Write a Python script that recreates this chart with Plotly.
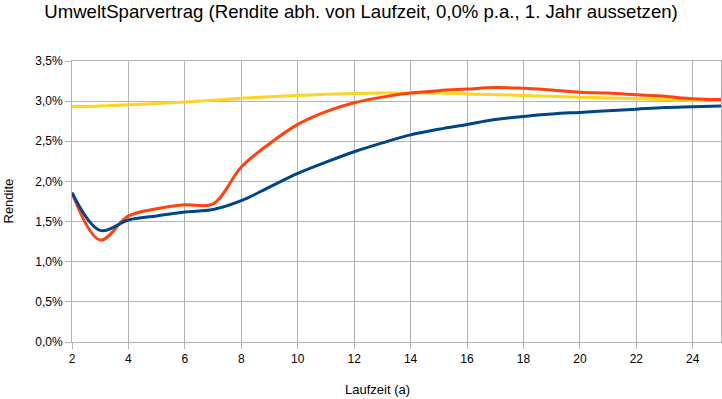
import plotly.graph_objects as go

laufzeit = list(range(2, 26))

rendite_blau = [1.86, 1.39, 1.52, 1.57, 1.62, 1.65, 1.76, 1.93, 2.10, 2.24, 2.37, 2.48,
                2.58, 2.65, 2.71, 2.77, 2.81, 2.84, 2.86, 2.88, 2.90, 2.92, 2.93, 2.94]
rendite_orange = [1.86, 1.27, 1.57, 1.66, 1.71, 1.72, 2.18, 2.47, 2.71, 2.87, 2.98, 3.05,
                  3.10, 3.13, 3.15, 3.17, 3.16, 3.14, 3.11, 3.10, 3.08, 3.06, 3.03, 3.02]
rendite_gelb = [2.93, 2.94, 2.955, 2.97, 2.99, 3.01, 3.035, 3.055, 3.07, 3.085, 3.095, 3.10,
                3.10, 3.10, 3.09, 3.08, 3.07, 3.06, 3.05, 3.04, 3.03, 3.02, 3.01, 3.01]

x_ticks = list(range(2, 26, 2))
y_ticks = [0.0, 0.5, 1.0, 1.5, 2.0, 2.5, 3.0, 3.5]

title_text = "UmweltSparvertrag (Rendite abh. von Laufzeit, 0,0% p.a., 1. Jahr aussetzen)"
x_title = "Laufzeit (a)"
y_title = "Rendite"

FONT = "Liberation Sans, Arial, sans-serif"
GRID = "#b3b3b3"

fig = go.Figure()
series = [
    (rendite_gelb, "#ffd320"),
    (rendite_orange, "#ff420e"),
    (rendite_blau, "#004586"),
]
for vals, col in series:
    fig.add_trace(go.Scatter(
        x=laufzeit, y=[v / 100 for v in vals], mode="lines",
        line=dict(color=col, width=3, shape="spline", smoothing=1.0),
        showlegend=False, hoverinfo="skip"))

fig.update_layout(
    width=722, height=399,
    margin=dict(l=72, r=1, t=61, b=57),
    paper_bgcolor="white", plot_bgcolor="white",
    separators=",.",
    font=dict(family=FONT, color="black", size=12),
    title=dict(text=title_text, x=361 / 722, xanchor="center", xref="container",
               y=1 - 11 / 399, yanchor="middle", yref="container",
               font=dict(family=FONT, size=18.6, color="black")),
)
fig.update_xaxes(
    range=[2, 25], tickvals=x_ticks, showgrid=True, gridcolor=GRID, gridwidth=1,
    showline=True, linecolor=GRID, linewidth=1, mirror=True,
    ticks="outside", ticklen=6, tickcolor=GRID, zeroline=False,
    tickfont=dict(size=12, color="black"),
)
fig.update_yaxes(
    range=[0, 0.035], tickvals=[v / 100 for v in y_ticks], tickformat=".1%",
    showgrid=True, gridcolor=GRID, gridwidth=1,
    showline=True, linecolor=GRID, linewidth=1, mirror=True,
    ticks="outside", ticklen=6, tickcolor=GRID, zeroline=False,
    tickfont=dict(size=12, color="black"),
)
fig.add_annotation(text=x_title, xref="paper", yref="paper",
                   x=(377 - 72) / 649, y=-(390 - 342) / 281,
                   xanchor="center", yanchor="middle", showarrow=False,
                   font=dict(family=FONT, size=13, color="black"))
fig.add_annotation(text=y_title, xref="paper", yref="paper",
                   x=-(72 - 8) / 649, y=0.5, textangle=-90,
                   xanchor="center", yanchor="middle", showarrow=False,
                   font=dict(family=FONT, size=13, color="black"))

fig.write_html("out.html", config={"displayModeBar": False},
               post_script="document.body.style.margin='0';")
